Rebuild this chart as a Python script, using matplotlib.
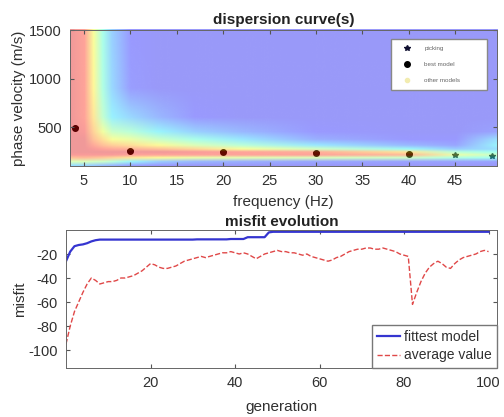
import numpy as np
import matplotlib.pyplot as plt
from matplotlib.image import NonUniformImage
from matplotlib.lines import Line2D

plt.rcParams['font.family'] = ['Liberation Sans', 'DejaVu Sans']
plt.rcParams['axes.unicode_minus'] = False

# --- misfit surface behind the dispersion curves (coarse grid) ---
freq_grid = [3.5, 5, 6, 7, 8, 10, 13, 17, 22, 30, 40, 45, 49.5]
vel_grid = [100, 140, 180, 210, 240, 270, 310, 370, 450, 600, 900, 1500]
# one row per frequency, one value per velocity (0 = blue ... 1 = dark red)
surface_f3_5 = [0.30, 0.55, 0.80, 0.90, 0.92, 0.92, 0.92, 0.92, 0.92, 0.92, 0.92, 0.92]
surface_f5 = [0.28, 0.55, 0.82, 0.90, 0.92, 0.92, 0.92, 0.92, 0.90, 0.88, 0.88, 0.88]
surface_f6 = [0.25, 0.52, 0.80, 0.90, 0.92, 0.90, 0.86, 0.80, 0.75, 0.70, 0.66, 0.64]
surface_f7 = [0.22, 0.50, 0.78, 0.90, 0.92, 0.88, 0.80, 0.72, 0.62, 0.48, 0.42, 0.40]
surface_f8 = [0.20, 0.45, 0.75, 0.90, 0.92, 0.86, 0.76, 0.64, 0.50, 0.34, 0.28, 0.26]
surface_f10 = [0.15, 0.35, 0.70, 0.88, 0.92, 0.84, 0.72, 0.60, 0.45, 0.28, 0.14, 0.12]
surface_f13 = [0.12, 0.25, 0.65, 0.88, 0.92, 0.80, 0.65, 0.50, 0.35, 0.20, 0.10, 0.10]
surface_f17 = [0.10, 0.20, 0.60, 0.88, 0.90, 0.74, 0.55, 0.40, 0.26, 0.12, 0.10, 0.10]
surface_f22 = [0.10, 0.18, 0.58, 0.88, 0.88, 0.64, 0.45, 0.32, 0.20, 0.10, 0.10, 0.10]
surface_f30 = [0.10, 0.16, 0.55, 0.88, 0.85, 0.52, 0.32, 0.18, 0.12, 0.10, 0.10, 0.10]
surface_f40 = [0.10, 0.15, 0.50, 0.82, 0.70, 0.36, 0.20, 0.12, 0.10, 0.10, 0.10, 0.10]
surface_f45 = [0.10, 0.15, 0.42, 0.60, 0.45, 0.25, 0.16, 0.12, 0.10, 0.10, 0.10, 0.10]
surface_f49_5 = [0.10, 0.15, 0.38, 0.50, 0.38, 0.30, 0.35, 0.30, 0.15, 0.10, 0.10, 0.10]

# picked phase velocities and best model
pick_freq = [4, 10, 20, 30, 40, 45, 49]
pick_vel = [490, 252, 240, 232, 222, 212, 206]
best_freq = [4, 10, 20, 30, 40]
best_vel = [490, 252, 240, 232, 222]

# --- misfit evolution ---
generation = list(range(0, 101))
fittest = [
    -26, -18, -13.5, -12.5, -12, -11, -9.5, -8.5,
    -8, -8, -8, -8, -8, -8, -8, -8, -8, -8,
    -8, -8, -8, -8, -8, -8, -8, -8, -8, -8,
    -8, -8, -8,
    -7.8, -7.8, -7.8, -7.8, -7.8, -7.8, -7.8, -7.8, -7.5, -7.5, -7.5, -7.5,
    -6, -6, -6, -6, -6,
    -2,
    -1.5, -1.5, -1.5, -1.5, -1.5, -1.5, -1.5, -1.5, -1.5, -1.5,
    -1.5, -1.5, -1.5, -1.5, -1.5, -1.5, -1.5, -1.5, -1.5, -1.5,
    -1.5, -1.5, -1.5, -1.5, -1.5, -1.5, -1.5, -1.5, -1.5, -1.5,
    -1.5, -1.5, -1.5, -1.5, -1.5, -1.5, -1.5, -1.5, -1.5, -1.5,
    -1.5, -1.5, -1.5, -1.5, -1.5, -1.5, -1.5, -1.5, -1.5, -1.5,
    -1.5, -1.5,
]
average = [
    -95, -80, -68, -60, -52, -45, -40, -42, -45, -44,
    -43, -43, -42, -40, -40, -39, -38, -36, -34, -31,
    -28, -29, -31, -32, -32, -31, -30, -28, -26, -25,
    -24, -23, -22, -23, -22, -21, -20, -19, -19, -18,
    -19, -20, -19, -20, -22, -24, -22, -20, -19, -18,
    -17, -18, -18, -19, -19, -20, -21, -20, -22, -23,
    -24, -25, -26, -25, -23, -22, -20, -18, -17, -16,
    -16, -15, -15, -16, -16, -15, -16, -17, -18, -20,
    -21, -22, -62, -52, -43, -36, -31, -28, -26, -28,
    -31, -32, -28, -25, -23, -22, -21, -20, -18, -17,
    -18,
]

surface = np.array([surface_f3_5, surface_f5, surface_f6, surface_f7, surface_f8,
                    surface_f10, surface_f13, surface_f17, surface_f22, surface_f30,
                    surface_f40, surface_f45, surface_f49_5]).T

# semi-transparent jet colours, so the markers underneath show through
rgba = plt.get_cmap('jet')(np.clip(surface, 0, 1))
rgba[..., 3] = 0.4

text_col = '#303030'
fig = plt.figure(figsize=(5.04, 4.17), dpi=100)

# --- top: dispersion curves ---
ax1 = fig.add_axes([70 / 504, 1 - 166 / 417, 427 / 504, 136 / 417])
ax1.plot(pick_freq, pick_vel, linestyle='none', marker='*', ms=4,
         color='#101030', zorder=1, label='picking')
ax1.plot(best_freq, best_vel, linestyle='none', marker='o', ms=4,
         color='black', zorder=1, label='best model')
im = NonUniformImage(ax1, interpolation='bilinear', extent=(3.5, 49.5, 100, 1500))
im.set_data(freq_grid, vel_grid, rgba)
im.set_zorder(1.5)
ax1.add_image(im)
ax1.set_xlim(3.5, 49.5)
ax1.set_ylim(100, 1500)
ax1.set_xticks([5, 10, 15, 20, 25, 30, 35, 40, 45])
ax1.set_yticks([500, 1000, 1500])
ax1.set_title('dispersion curve(s)', fontsize=11, fontweight='bold', pad=4, color='#222')
ax1.set_xlabel('frequency (Hz)', fontsize=11, color=text_col, labelpad=5)
ax1.set_ylabel('phase velocity (m/s)', fontsize=11, color=text_col, labelpad=2)

other = Line2D([], [], linestyle='none', marker='o', ms=3, color='#f2ecb0')
handles, labels = ax1.get_legend_handles_labels()
leg1 = ax1.legend(handles + [other], labels + ['other models'], loc='upper right',
                  bbox_to_anchor=(0.745, 0.574, 0.239, 0.382), mode='expand',
                  fontsize=4.5, labelspacing=1.7, borderpad=1.1, handlelength=3.0,
                  handletextpad=1.2, fancybox=False, edgecolor='#888', framealpha=1)
for t in leg1.get_texts():
    t.set_color('#666')
leg1.set_zorder(5)

# --- bottom: misfit evolution ---
ax2 = fig.add_axes([66 / 504, 1 - 368 / 417, 431 / 504, 138 / 417])
ax2.plot(generation, fittest, color='#3535d0', lw=1.6, label='fittest model')
ax2.plot(generation, average, color='#e04848', lw=1.0, linestyle='--', label='average value')
ax2.set_xlim(0, 102)
ax2.set_ylim(-115, 0)
ax2.set_xticks([20, 40, 60, 80, 100])
ax2.set_yticks([-100, -80, -60, -40, -20])
ax2.set_title('misfit evolution', fontsize=11, fontweight='bold', pad=3, color='#222')
ax2.set_xlabel('generation', fontsize=11, color=text_col, labelpad=7)
ax2.set_ylabel('misfit', fontsize=11, color=text_col, labelpad=1)
leg2 = ax2.legend(loc='lower right', fontsize=10, handlelength=1.6, handletextpad=0.3,
                  labelspacing=0.3, borderaxespad=0, fancybox=False,
                  edgecolor='#777', framealpha=1)
for t in leg2.get_texts():
    t.set_color(text_col)

for ax in (ax1, ax2):
    ax.tick_params(direction='in', length=3, top=True, right=True,
                   labelsize=10.5, labelcolor=text_col, color='#555', pad=6)
    for s in ax.spines.values():
        s.set_color('#666')
        s.set_linewidth(0.7)

fig.savefig('out.png', dpi=100)
